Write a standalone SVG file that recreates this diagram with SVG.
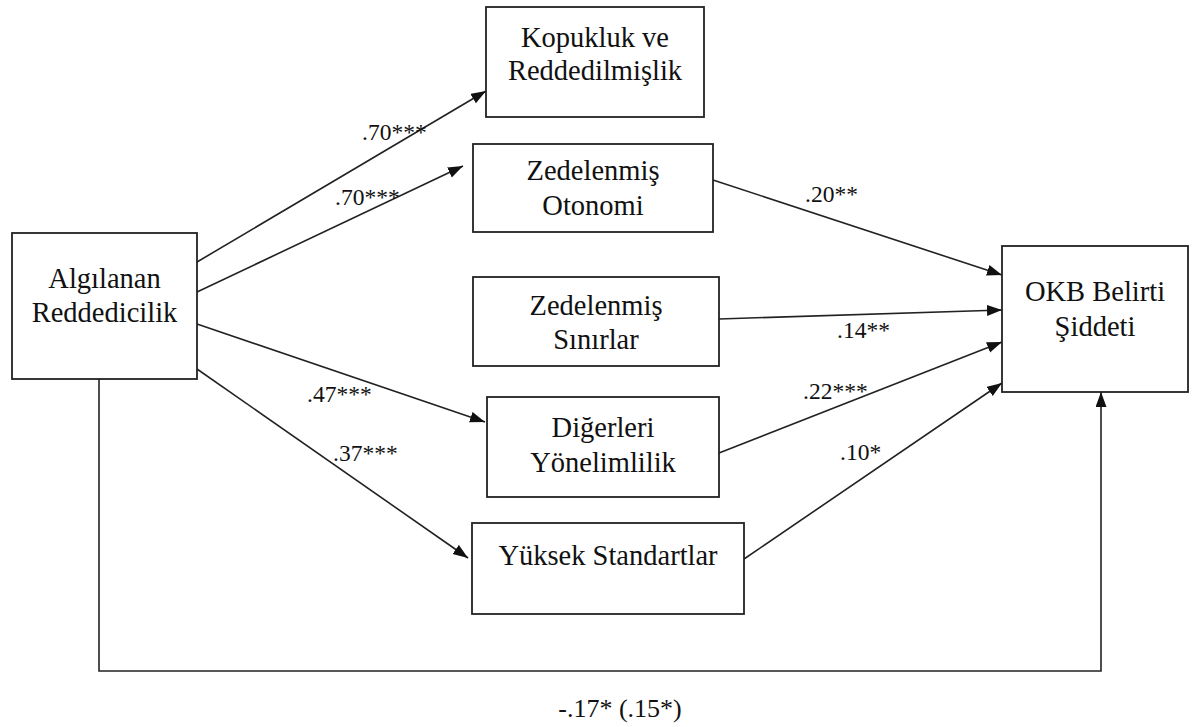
<svg xmlns="http://www.w3.org/2000/svg" width="1194" height="727" viewBox="0 0 1194 727">
<defs>
<marker id="arr" markerUnits="userSpaceOnUse" markerWidth="16" markerHeight="12" refX="15" refY="5.5" orient="auto">
<path d="M0,0 L15,5.5 L0,11 z" fill="#111"/>
</marker>
<style>
.box{fill:#fff;stroke:#222;stroke-width:1.8}
text{font-family:'Liberation Serif','Times New Roman','DejaVu Serif',serif;fill:#111}
.t{font-size:28.5px;text-anchor:middle}
.lbl{font-size:23.5px}
.bl{font-size:26px;text-anchor:middle}
.c{fill:none;stroke:#222;stroke-width:1.6}
</style>
</defs>
<rect width="1194" height="727" fill="#fff"/>
<g id="connectors">
<line class="c" x1="197" y1="262" x2="486" y2="91" marker-end="url(#arr)"/>
<line class="c" x1="197" y1="292" x2="463" y2="166" marker-end="url(#arr)"/>
<line class="c" x1="197" y1="324" x2="485" y2="422" marker-end="url(#arr)"/>
<line class="c" x1="197" y1="369" x2="468" y2="558" marker-end="url(#arr)"/>
<line class="c" x1="713" y1="180" x2="1002" y2="275" marker-end="url(#arr)"/>
<line class="c" x1="719" y1="319" x2="1002" y2="310" marker-end="url(#arr)"/>
<line class="c" x1="719" y1="453" x2="1002" y2="342" marker-end="url(#arr)"/>
<line class="c" x1="744" y1="559" x2="1002" y2="383" marker-end="url(#arr)"/>
<polyline class="c" points="99,379 99,671 1101,671 1101,392" marker-end="url(#arr)"/>
<text class="lbl" x="362" y="140">.70***</text>
<text class="lbl" x="335" y="205">.70***</text>
<text class="lbl" x="307" y="402">.47***</text>
<text class="lbl" x="333" y="461">.37***</text>
<text class="lbl" x="805" y="202">.20**</text>
<text class="lbl" x="837" y="338">.14**</text>
<text class="lbl" x="803" y="399">.22***</text>
<text class="lbl" x="840" y="460">.10*</text>
<text class="bl" x="620" y="717">-.17* (.15*)</text>
</g>
<g id="n-algilanan">
<rect class="box" x="12" y="233" width="185" height="146"/>
<text class="t" x="104.5" y="288">Algılanan</text>
<text class="t" x="104.5" y="322">Reddedicilik</text>
</g>
<g id="n-kopukluk">
<rect class="box" x="486" y="7" width="218" height="110"/>
<text class="t" x="595" y="47">Kopukluk ve</text>
<text class="t" x="595" y="80">Reddedilmişlik</text>
</g>
<g id="n-otonomi">
<rect class="box" x="473" y="144" width="240" height="88"/>
<text class="t" x="593" y="180">Zedelenmiş</text>
<text class="t" x="593" y="215">Otonomi</text>
</g>
<g id="n-sinirlar">
<rect class="box" x="473" y="277" width="246" height="89"/>
<text class="t" x="596" y="315">Zedelenmiş</text>
<text class="t" x="596" y="349">Sınırlar</text>
</g>
<g id="n-digerleri">
<rect class="box" x="487" y="397" width="232" height="100"/>
<text class="t" x="603" y="437">Diğerleri</text>
<text class="t" x="603" y="472">Yönelimlilik</text>
</g>
<g id="n-yuksek">
<rect class="box" x="472" y="523" width="272" height="91"/>
<text class="t" x="608" y="565">Yüksek Standartlar</text>
</g>
<g id="n-okb">
<rect class="box" x="1002" y="246" width="186" height="146"/>
<text class="t" x="1095" y="301">OKB Belirti</text>
<text class="t" x="1095" y="336">Şiddeti</text>
</g>
</svg>
